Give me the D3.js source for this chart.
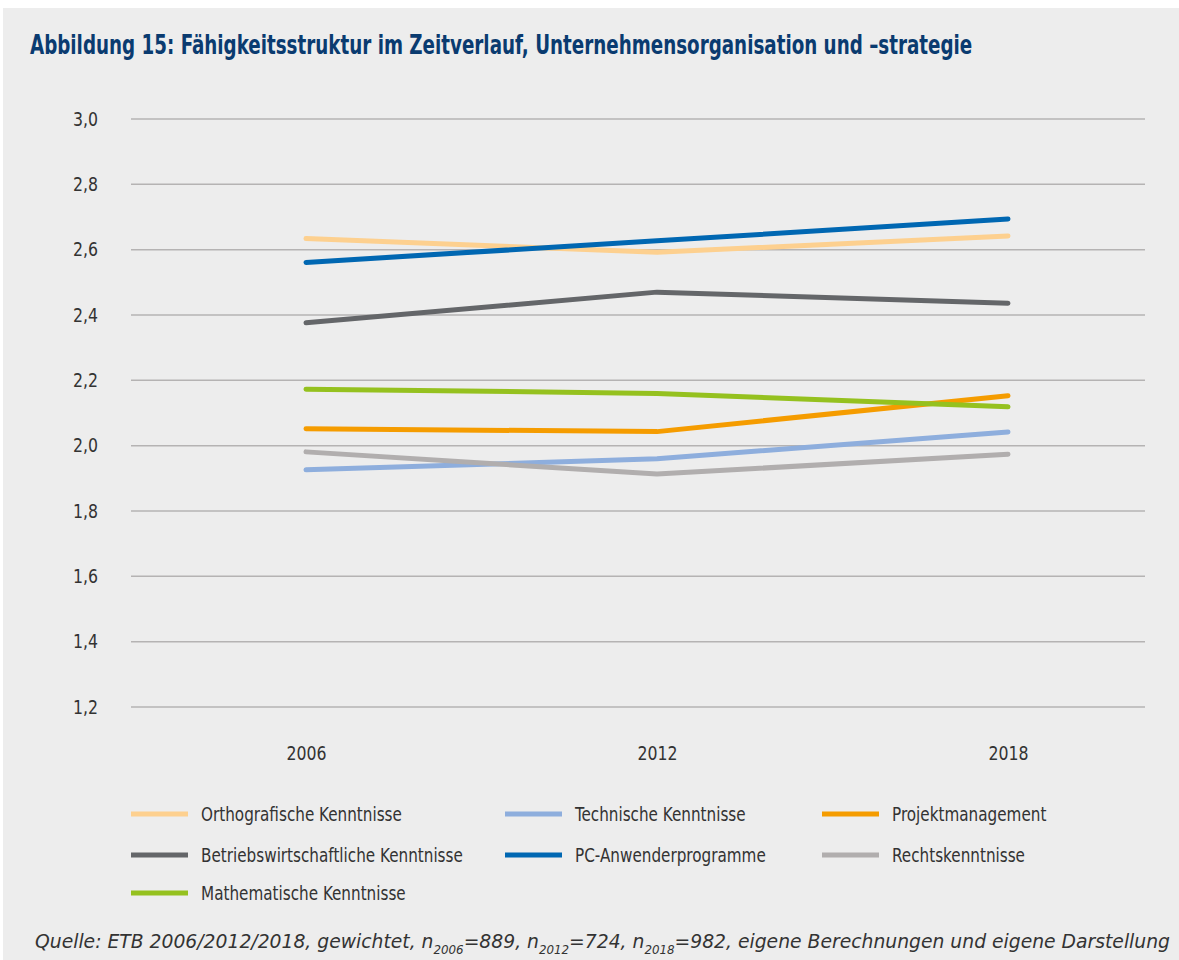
<!DOCTYPE html>
<html lang="de">
<head>
<meta charset="UTF-8">
<title>Abbildung 15</title>
<script src="https://d3js.org/d3.v7.min.js"></script>
<style>
  body { margin: 0; background: #fff; }
  text { font-family: "DejaVu Sans", sans-serif; font-stretch: condensed; }
</style>
</head>
<body>
<svg id="chart" width="1179" height="960"></svg>
<script>
  // data
  const years = ["2006", "2012", "2018"];
  const yTicks = [1.2, 1.4, 1.6, 1.8, 2.0, 2.2, 2.4, 2.6, 2.8, 3.0];

  const seriesNames = [
    "Orthografische Kenntnisse", "Technische Kenntnisse", "Projektmanagement",
    "Betriebswirtschaftliche Kenntnisse", "PC-Anwenderprogramme", "Rechtskenntnisse",
    "Mathematische Kenntnisse"
  ];
  const seriesColors = ["#fdd08f", "#8eaedd", "#f59c00", "#646669", "#0067b2", "#b1aeae", "#95c11f"];

  const orthografisch = [2.634, 2.592, 2.642];
  const technisch     = [1.926, 1.960, 2.042];
  const projekt       = [2.052, 2.043, 2.153];
  const betriebs      = [2.376, 2.470, 2.436];
  const pcAnwender    = [2.561, 2.627, 2.694];
  const recht         = [1.981, 1.913, 1.974];
  const mathe         = [2.173, 2.160, 2.119];
  const seriesValues = [orthografisch, technisch, projekt, betriebs, pcAnwender, recht, mathe];

  const svg = d3.select("#chart");

  // squeeze a text horizontally (the original uses a condensed face)
  function squeeze(sel, factor, target) {
    sel.each(function () {
      const w = this.getComputedTextLength();
      const len = target ? target : w * factor;
      d3.select(this).attr("textLength", len).attr("lengthAdjust", "spacingAndGlyphs");
    });
  }

  // grey panel
  svg.append("rect").attr("x", 3).attr("y", 8).attr("width", 1176).attr("height", 952).attr("fill", "#ededed");

  // title, scaled down to the width of the original
  const titleG = svg.append("g");
  const title = titleG.append("text")
    .attr("fill", "#0a3b70").attr("font-size", 26).attr("font-weight", "bold")
    .text("Abbildung 15: Fähigkeitsstruktur im Zeitverlauf, Unternehmensorganisation und –strategie");
  const titleW = title.node().getComputedTextLength();
  titleG.attr("transform", `translate(30,54) scale(${943 / titleW},1)`);

  const gridLeft = 131, gridRight = 1145;
  const x = d3.scalePoint().domain(years).range([306, 1008]);
  const y = d3.scaleLinear().domain([1.2, 3.0]).range([707, 119]);

  // gridlines
  svg.append("g").selectAll("line").data(yTicks).join("line")
    .attr("x1", gridLeft).attr("x2", gridRight)
    .attr("y1", d => y(d)).attr("y2", d => y(d))
    .attr("stroke", "#b5b3b3").attr("stroke-width", 1.5);

  // y axis labels
  const yAxis = d3.axisLeft(y).tickValues(yTicks).tickSize(0).tickPadding(0)
    .tickFormat(d => d3.format(".1f")(d).replace(".", ","));
  svg.append("g").attr("transform", "translate(98,0)").call(yAxis)
    .call(g => g.select(".domain").remove())
    .selectAll("text").attr("font-size", 19).attr("fill", "#333").attr("font-family", null)
    .call(squeeze, 0.92);

  // x axis labels
  const xAxis = d3.axisBottom(x).tickSize(0).tickPadding(0);
  svg.append("g").attr("transform", "translate(0,746)").call(xAxis)
    .call(g => g.select(".domain").remove())
    .selectAll("text").attr("font-size", 19).attr("fill", "#333").attr("font-family", null)
    .call(squeeze, 0.92);

  // lines
  const line = d3.line().x((d, i) => x(years[i])).y(d => y(d));
  svg.append("g").selectAll("path").data(seriesValues).join("path")
    .attr("d", line)
    .attr("fill", "none")
    .attr("stroke", (d, i) => seriesColors[i])
    .attr("stroke-width", 5)
    .attr("stroke-linecap", "round")
    .attr("stroke-linejoin", "round");

  // legend
  const legCols = [131, 505, 822];
  const legRows = [814, 855, 893];
  const leg = svg.append("g").selectAll("g").data(seriesNames).join("g")
    .attr("transform", (d, i) => `translate(${legCols[i % 3]},${legRows[Math.floor(i / 3)]})`);
  leg.append("line").attr("x1", 0).attr("x2", 57)
    .attr("stroke", (d, i) => seriesColors[i]).attr("stroke-width", 5);
  leg.append("text").attr("x", 70).attr("dy", "0.35em")
    .attr("font-size", 19).attr("fill", "#333").text(d => d)
    .call(squeeze, 0.89);

  // source
  const src = svg.append("text").attr("x", 35).attr("y", 948)
    .attr("font-size", 19).attr("font-style", "italic").attr("fill", "#333");
  const parts = [
    ["Quelle: ETB 2006/2012/2018, gewichtet, n", false], ["2006", true], ["=889, n", false],
    ["2012", true], ["=724, n", false], ["2018", true],
    ["=982, eigene Berechnungen und eigene Darstellung", false]
  ];
  parts.forEach((p, i) => {
    const prevSub = i > 0 && parts[i - 1][1];
    src.append("tspan").text(p[0])
      .attr("font-size", p[1] ? 12 : 19)
      .attr("dy", p[1] ? 6 : (prevSub ? -6 : null));
  });
  src.call(squeeze, null, 1135);
</script>
</body>
</html>
